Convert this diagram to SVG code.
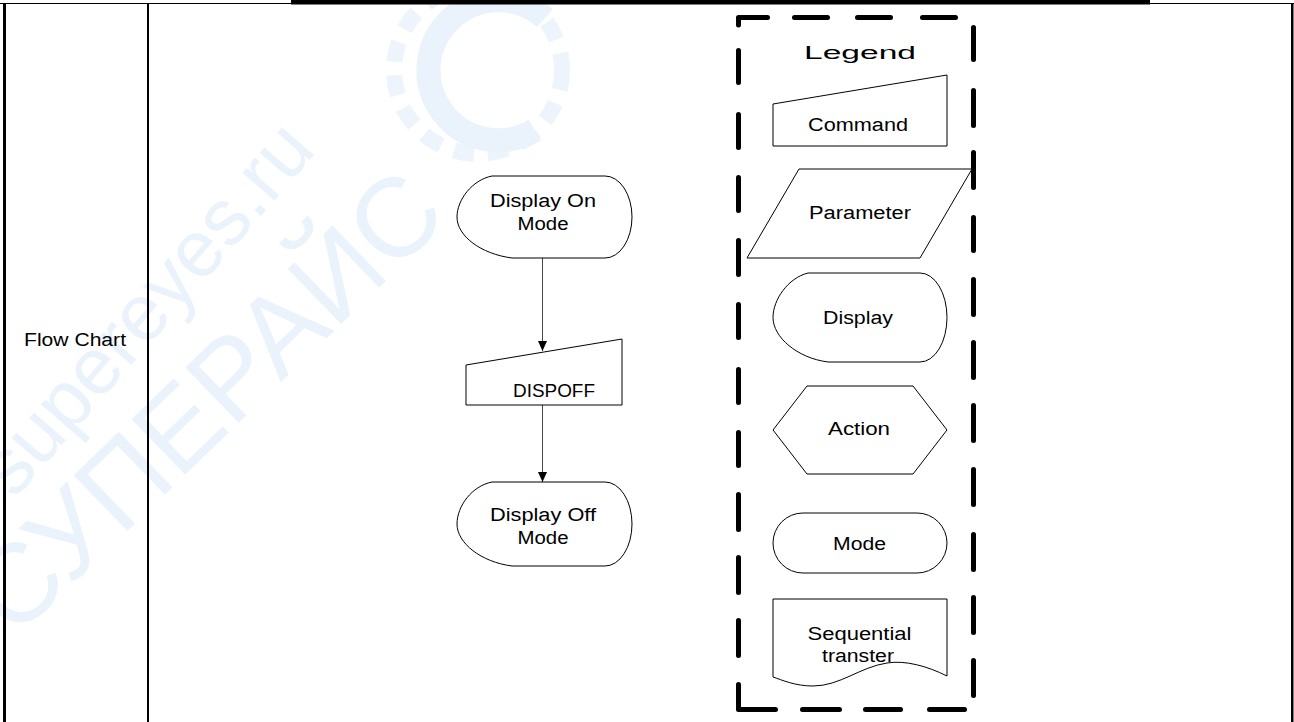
<svg xmlns="http://www.w3.org/2000/svg" width="1294" height="722" viewBox="0 0 1294 722">
<defs>
<style>
.t{font-family:"Liberation Sans",Arial,sans-serif;font-size:18px;fill:#000;text-anchor:middle}
.shape{fill:#fff;stroke:#000;stroke-width:1}
.conn{stroke:#444;stroke-width:1;fill:none}
.dash{stroke:#000;stroke-width:5;stroke-linecap:round;stroke-linejoin:round;fill:none}
.wm{font-family:"Liberation Sans",Arial,sans-serif;fill:#eaf2fb}
</style>
<marker id="arr" markerWidth="10" markerHeight="10" refX="10" refY="4.5" orient="auto" markerUnits="userSpaceOnUse">
<path d="M0,0 L10,4.5 L0,9 Z" fill="#000"/>
</marker>
</defs>
<rect width="1294" height="722" fill="#fff"/>
<g id="watermark">
<circle cx="478" cy="70" r="84" fill="none" stroke="#edf4fb" stroke-width="16" stroke-dasharray="20 14"/>
<path d="M535,130 A70,70 0 1 1 545,18" fill="none" stroke="#eaf2fb" stroke-width="24"/>
<text class="wm" font-size="80" transform="translate(14,500) rotate(-49)">supereyes.ru</text>
<text class="wm" font-size="112" transform="translate(14,640) rotate(-44)">СУПЕРАЙС</text>
</g>
<g id="table">
<line x1="0" y1="3.5" x2="1294" y2="3.5" stroke="#000" stroke-width="1"/>
<rect x="291" y="0" width="859" height="4.5" fill="#000"/>
<rect x="3" y="3" width="3" height="719" fill="#000"/>
<rect x="147" y="3" width="2" height="719" fill="#000"/>
<rect x="1291" y="3" width="2.5" height="719" fill="#000"/>
<text class="t" x="75" y="346" textLength="102" lengthAdjust="spacingAndGlyphs">Flow Chart</text>
</g>
<g id="legend-box">
<path class="dash" d="M738.5,25 V17.5 H767.5 M794.5,17.5 H827.5 M857.5,17.5 H890.5 M922.5,17.5 H955.5"/>
<path class="dash" d="M973.5,27.5 V59.5 M973.5,90.5 V125.5 M973.5,152.5 V187.5 M973.5,217.5 V250.5 M973.5,279.5 V314.5 M973.5,342.5 V377.5 M973.5,405.5 V440.5 M973.5,469.5 V504.5 M973.5,534.5 V569.5 M973.5,597.5 V632.5 M973.5,660.5 V695.5"/>
<path class="dash" d="M738.5,684.5 V709.5 H775.5 M802.5,709.5 H839.5 M865.5,709.5 H900.5 M929.5,709.5 H964.5"/>
<path class="dash" d="M738.5,50.5 V82.5 M738.5,114.5 V147.5 M738.5,177.5 V210.5 M738.5,240.5 V274.5 M738.5,304.5 V337.5 M738.5,369.5 V402.5 M738.5,432.5 V465.5 M738.5,494.5 V529.5 M738.5,557.5 V592.5 M738.5,620.5 V655.5"/>
<text class="t" x="860" y="59" font-size="28" textLength="112" lengthAdjust="spacingAndGlyphs">Legend</text>
</g>
<g id="legend-command">
<polygon class="shape" points="773,104 947,75 947,146 773,146"/>
<text class="t" x="858" y="131" textLength="100" lengthAdjust="spacingAndGlyphs">Command</text>
</g>
<g id="legend-parameter">
<polygon class="shape" points="799,169 972,169 920,258 747,258"/>
<text class="t" x="860" y="219" textLength="102" lengthAdjust="spacingAndGlyphs">Parameter</text>
</g>
<g id="legend-display">
<path class="shape" d="M808,273 H920 A27,44.5 0 0 1 920,362 H828 C797,358 773,337 773,317.5 C773,299.7 788,278 808,273 Z"/>
<text class="t" x="858" y="324" textLength="70" lengthAdjust="spacingAndGlyphs">Display</text>
</g>
<g id="legend-action">
<polygon class="shape" points="807,386 913,386 947,430 913,474 807,474 773,430"/>
<text class="t" x="859" y="435" textLength="62" lengthAdjust="spacingAndGlyphs">Action</text>
</g>
<g id="legend-mode">
<rect class="shape" x="773" y="513" width="174" height="60" rx="30" ry="30"/>
<text class="t" x="859.5" y="550" textLength="53" lengthAdjust="spacingAndGlyphs">Mode</text>
</g>
<g id="legend-sequential">
<path class="shape" d="M773,599 H947 V676 C927,666 905,660 887,663 C860,667 840,686 813,686 C795,686 782,680 773,677 Z"/>
<text class="t" x="859.5" y="640" textLength="104" lengthAdjust="spacingAndGlyphs">Sequential</text>
<text class="t" x="858" y="662" textLength="72" lengthAdjust="spacingAndGlyphs">transter</text>
</g>
<g id="connectors">
<line class="conn" x1="542.5" y1="258" x2="542.5" y2="351" marker-end="url(#arr)"/>
<line class="conn" x1="542.5" y1="405" x2="542.5" y2="482" marker-end="url(#arr)"/>
</g>
<g id="display-on-mode">
<path class="shape" d="M492,176 H605 A27,41 0 0 1 605,258 H512 C481,254 457,236 457,217 C457,200 472,180 492,176 Z"/>
<text class="t" x="543" y="207" textLength="106" lengthAdjust="spacingAndGlyphs">Display On</text>
<text class="t" x="543" y="230" textLength="51" lengthAdjust="spacingAndGlyphs">Mode</text>
</g>
<g id="dispoff">
<polygon class="shape" points="466,365 622,339 622,405 466,405"/>
<text class="t" x="554" y="397" textLength="82" lengthAdjust="spacingAndGlyphs">DISPOFF</text>
</g>
<g id="display-off-mode">
<path class="shape" d="M492,482 H605 A27,42 0 0 1 605,566 H512 C481,562 457,543 457,524 C457,506 472,486 492,482 Z"/>
<text class="t" x="543" y="521" textLength="106" lengthAdjust="spacingAndGlyphs">Display Off</text>
<text class="t" x="543" y="544" textLength="51" lengthAdjust="spacingAndGlyphs">Mode</text>
</g>
</svg>
